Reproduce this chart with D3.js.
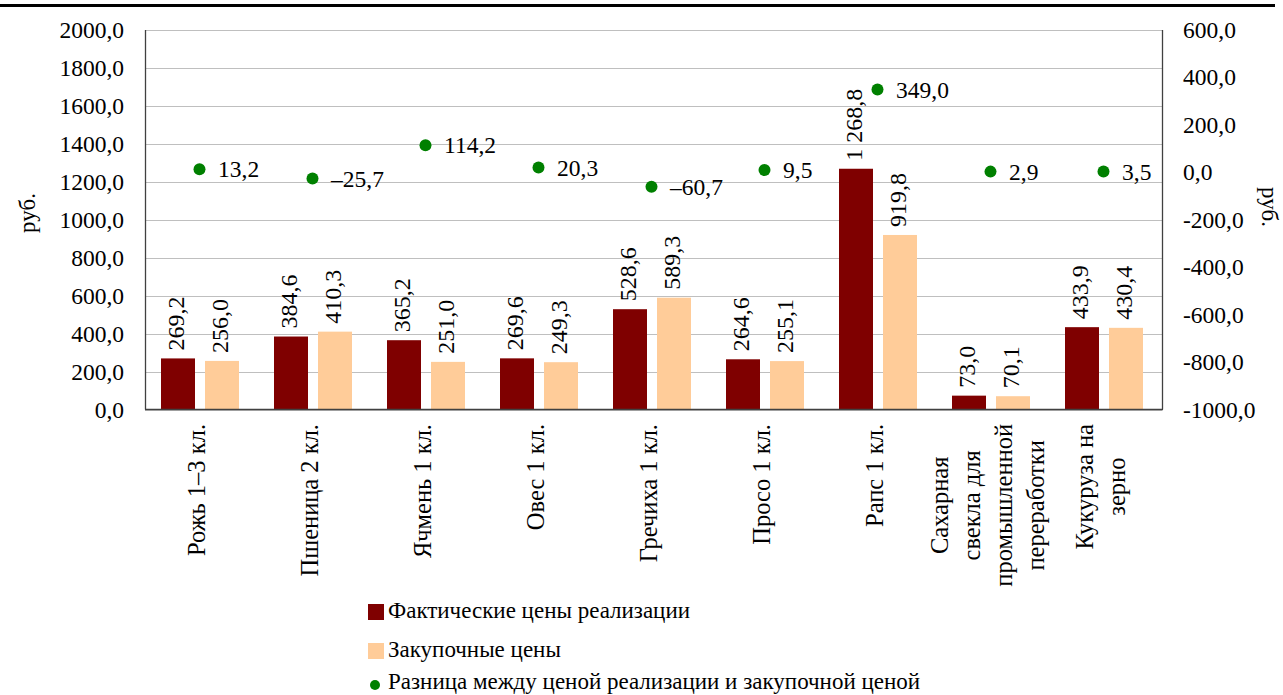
<!DOCTYPE html>
<html>
<head>
<meta charset="utf-8">
<script src="https://cdn.jsdelivr.net/npm/d3@7"></script>
<style>
  html, body { margin: 0; padding: 0; background: #fff; }
  svg { display: block; font-family: "Liberation Serif", "Times New Roman", serif; }
  svg text { font-family: "Liberation Serif", "Times New Roman", serif; }
</style>
</head>
<body>
<svg id="chart" width="1283" height="695"></svg>
<script>
// Crop names (one array per line of the axis label)
const categories = [
  ["Рожь 1–3 кл."],
  ["Пшеница 2 кл."],
  ["Ячмень 1 кл."],
  ["Овес 1 кл."],
  ["Гречиха  1 кл."],
  ["Просо 1 кл."],
  ["Рапс 1 кл."],
  ["Сахарная", "свекла для", "промышленной", "переработки"],
  ["Кукуруза на", "зерно"]
];
// Actual sale prices, rub.
const actualPrices = [269.2, 384.6, 365.2, 269.6, 528.6, 264.6, 1268.8, 73.0, 433.9];
// Purchase prices, rub.
const purchasePrices = [256.0, 410.3, 251.0, 249.3, 589.3, 255.1, 919.8, 70.1, 430.4];
// Difference between sale price and purchase price, rub.
const priceDiff = [13.2, -25.7, 114.2, 20.3, -60.7, 9.5, 349.0, 2.9, 3.5];

const leftTicks = [0, 200, 400, 600, 800, 1000, 1200, 1400, 1600, 1800, 2000];
const rightTicks = [-1000, -800, -600, -400, -200, 0, 200, 400, 600];
const seriesNames = [
  "Фактические цены реализации",
  "Закупочные цены",
  "Разница между ценой реализации и закупочной ценой"
];
const unitLabel = "руб.";

const colorActual = "#7F0000";
const colorPurchase = "#FFCC99";
const colorDiff = "#008000";

const svg = d3.select("#chart");
const plot = { left: 145, right: 1162, top: 30, bottom: 409.5 };

const x = d3.scaleBand()
  .domain(d3.range(categories.length))
  .range([plot.left, plot.right])
  .paddingInner(0).paddingOuter(0);

const inner = d3.scaleBand()
  .domain([0, 1])
  .range([16, 94])
  .paddingInner(10 / 44)
  .paddingOuter(0);

const yL = d3.scaleLinear().domain([0, 2000]).range([plot.bottom, plot.top]);
const yR = d3.scaleLinear().domain([-1000, 600]).range([plot.bottom, plot.top]);

const axisFmt = v => d3.format(".1f")(v).replace(".", ",").replace("−", "-");
const valueFmt = v => {
  const s = d3.format(",.1f")(Math.abs(v)).replace(/,/g, " ").replace(".", ",");
  return (v < 0 ? "–" : "") + s;
};

// Top rule
svg.append("rect").attr("x", 0).attr("y", 4).attr("width", 1275).attr("height", 3).attr("fill", "#000");

// Gridlines
svg.append("g").selectAll("line").data(leftTicks).join("line")
  .attr("x1", plot.left).attr("x2", plot.right)
  .attr("y1", d => Math.round(yL(d)) + 0.5).attr("y2", d => Math.round(yL(d)) + 0.5)
  .attr("stroke", "#BFBFBF").attr("stroke-width", 1);

// Left axis
const axisL = d3.axisLeft(yL).tickValues(leftTicks).tickFormat(axisFmt).tickSize(0).tickPadding(21);
const gL = svg.append("g").attr("transform", `translate(${plot.left},0)`).call(axisL);
gL.attr("font-family", null).attr("font-size", null);
gL.select(".domain").remove();
gL.selectAll("text").attr("font-size", 23.5).attr("fill", "#000");

// Right axis
const axisR = d3.axisRight(yR).tickValues(rightTicks).tickFormat(axisFmt).tickSize(0).tickPadding(21);
const gR = svg.append("g").attr("transform", `translate(${plot.right},0)`).call(axisR);
gR.attr("font-family", null).attr("font-size", null);
gR.select(".domain").remove();
gR.selectAll("text").attr("font-size", 23.5).attr("fill", "#000");

// Bars
const barData = [];
categories.forEach((c, i) => {
  barData.push({ i, s: 0, v: actualPrices[i] });
  barData.push({ i, s: 1, v: purchasePrices[i] });
});
svg.append("g").selectAll("rect").data(barData).join("rect")
  .attr("x", d => x(d.i) + inner(d.s))
  .attr("width", inner.bandwidth())
  .attr("y", d => yL(d.v))
  .attr("height", d => yL(0) - yL(d.v))
  .attr("fill", d => d.s === 0 ? colorActual : colorPurchase);

// Bar value labels
svg.append("g").selectAll("text").data(barData).join("text")
  .attr("transform", d => `translate(${x(d.i) + inner(d.s) + inner.bandwidth() / 2},${yL(d.v) - 8}) rotate(-90)`)
  .attr("dy", 6)
  .attr("font-size", 24)
  .attr("fill", "#000")
  .text(d => valueFmt(d.v));

// Frame lines
svg.append("line").attr("x1", plot.left + 0.5).attr("x2", plot.left + 0.5).attr("y1", plot.top).attr("y2", plot.bottom)
  .attr("stroke", "#404040").attr("stroke-width", 1.3);
svg.append("line").attr("x1", plot.right + 0.5).attr("x2", plot.right + 0.5).attr("y1", plot.top).attr("y2", plot.bottom)
  .attr("stroke", "#404040").attr("stroke-width", 1.3);
svg.append("line").attr("x1", plot.left).attr("x2", plot.right + 1).attr("y1", plot.bottom).attr("y2", plot.bottom)
  .attr("stroke", "#404040").attr("stroke-width", 1.5);

// Difference points
const diffData = priceDiff.map((v, i) => ({ i, v }));
svg.append("g").selectAll("circle").data(diffData).join("circle")
  .attr("cx", d => x(d.i) + 54.5)
  .attr("cy", d => yR(d.v))
  .attr("r", 6)
  .attr("fill", colorDiff);
svg.append("g").selectAll("text").data(diffData).join("text")
  .attr("x", d => x(d.i) + 73)
  .attr("y", d => yR(d.v))
  .attr("dy", "0.35em")
  .attr("font-size", 23.5)
  .attr("fill", "#000")
  .text(d => valueFmt(d.v));

// Category labels (rotated, multi-line centred)
const catG = svg.append("g");
categories.forEach((lines, i) => {
  const g = catG.append("g");
  const texts = lines.map((ln, k) => g.append("text")
    .attr("font-size", 24.5).attr("fill", "#000")
    .attr("text-anchor", "middle")
    .attr("dy", (k - (lines.length - 1) / 2) * 32 + 3)
    .text(ln));
  const maxLen = d3.max(texts, t => t.node().getComputedTextLength());
  const cx = x(i) + x.bandwidth() / 2;
  g.attr("transform", `translate(${cx},${424 + maxLen / 2}) rotate(-90)`);
});

// Axis titles
svg.append("text").attr("transform", "translate(27,213) rotate(-90)")
  .attr("text-anchor", "middle").attr("dy", "0.35em").attr("font-size", 23).text(unitLabel);
svg.append("text").attr("transform", "translate(1270,207) rotate(90)")
  .attr("text-anchor", "middle").attr("dy", "0.35em").attr("font-size", 23).text(unitLabel);

// Legend
const legend = svg.append("g");
legend.append("rect").attr("x", 368).attr("y", 604).attr("width", 16).attr("height", 16).attr("fill", colorActual);
legend.append("text").attr("x", 388).attr("y", 618).attr("font-size", 23).text(seriesNames[0]);
legend.append("rect").attr("x", 368).attr("y", 643).attr("width", 16).attr("height", 16).attr("fill", colorPurchase);
legend.append("text").attr("x", 388).attr("y", 657).attr("font-size", 23).text(seriesNames[1]);
legend.append("circle").attr("cx", 375).attr("cy", 685).attr("r", 5).attr("fill", colorDiff);
legend.append("text").attr("x", 388).attr("y", 689).attr("font-size", 23).text(seriesNames[2]);
</script>
</body>
</html>
